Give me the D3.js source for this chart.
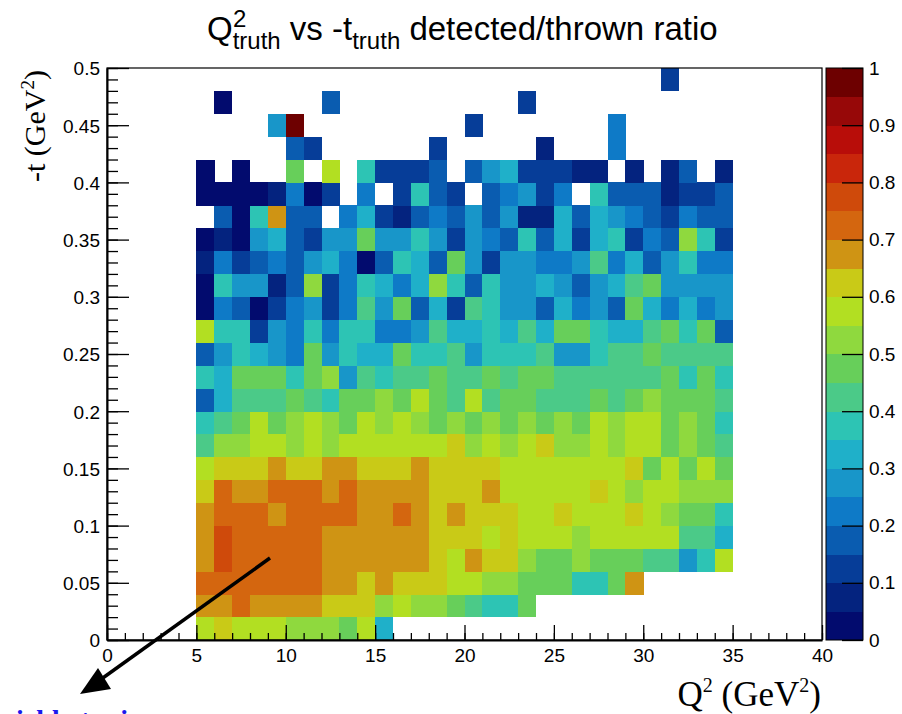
<!DOCTYPE html>
<html>
<head>
<meta charset="utf-8">
<script src="https://cdn.jsdelivr.net/npm/d3@7"></script>
<style>
  html, body { margin: 0; padding: 0; background: #ffffff; }
  svg { display: block; }
  .tick text { font-family: "Liberation Sans", Arial, sans-serif; }
</style>
</head>
<body>
<svg id="chart" width="902" height="714"></svg>
<script>
// ---------------- DATA ----------------
// Q^2 bin lower edges (GeV^2), bin width 1
const qBins = d3.range(5, 35, 1);
// -t bin lower edges (GeV^2), bin width 0.02
const tBins = d3.range(0, 25).map(i => +(i * 0.02).toFixed(2));
const qWidth = 1;
const tWidth = 0.02;

// detected/thrown ratio, one array per -t bin (Q^2 = 5 ... 34), null = empty bin
const ratio_t000 = [0.58,0.62,0.58,0.58,0.58,0.52,0.52,0.52,0.48,0.58, 0.33,null,null,null,null,null,null,null,null,null, null,null,null,null,null,null,null,null,null,null];
const ratio_t002 = [0.68,0.68,0.72,0.68,0.68,0.68,0.68,0.62,0.62,0.62, 0.52,0.58,0.52,0.52,0.48,0.42,0.38,0.38,0.48,null, null,null,null,null,null,null,null,null,null,null];
const ratio_t004 = [0.72,0.72,0.72,0.72,0.72,0.72,0.72,0.68,0.68,0.62, 0.68,0.62,0.62,0.62,0.58,0.58,0.52,0.52,0.48,0.48, 0.48,0.38,0.38,0.48,0.68,null,null,null,null,null];
const ratio_t006 = [0.68,0.78,0.72,0.72,0.72,0.72,0.72,0.68,0.68,0.68, 0.68,0.68,0.68,0.62,0.58,0.68,0.62,0.62,0.52,0.48, 0.48,0.52,0.48,0.48,0.48,0.42,0.42,0.28,0.38,0.58];
const ratio_t008 = [0.68,0.78,0.72,0.72,0.72,0.72,0.72,0.68,0.68,0.68, 0.68,0.68,0.68,0.62,0.62,0.62,0.58,0.62,0.58,0.58, 0.58,0.52,0.58,0.58,0.58,0.58,0.58,0.42,0.42,0.33];
const ratio_t010 = [0.68,0.72,0.72,0.72,0.68,0.72,0.72,0.72,0.72,0.68, 0.68,0.72,0.68,0.62,0.68,0.62,0.62,0.62,0.58,0.58, 0.62,0.58,0.58,0.58,0.62,0.58,0.52,0.48,0.48,0.38];
const ratio_t012 = [0.62,0.72,0.68,0.68,0.72,0.72,0.72,0.68,0.72,0.68, 0.68,0.68,0.68,0.62,0.62,0.62,0.68,0.58,0.58,0.58, 0.58,0.58,0.62,0.58,0.52,0.58,0.58,0.52,0.52,0.52];
const ratio_t014 = [0.58,0.62,0.62,0.62,0.68,0.62,0.62,0.68,0.68,0.62, 0.62,0.62,0.68,0.62,0.62,0.62,0.62,0.58,0.58,0.58, 0.58,0.58,0.58,0.58,0.62,0.48,0.58,0.48,0.58,0.48];
const ratio_t016 = [0.42,0.52,0.52,0.58,0.58,0.52,0.58,0.52,0.58,0.58, 0.58,0.58,0.58,0.58,0.62,0.52,0.58,0.52,0.58,0.62, 0.52,0.52,0.58,0.52,0.58,0.58,0.48,0.52,0.48,0.42];
const ratio_t018 = [0.38,0.42,0.48,0.58,0.48,0.52,0.58,0.52,0.48,0.58, 0.52,0.58,0.52,0.48,0.52,0.48,0.52,0.48,0.52,0.48, 0.52,0.48,0.58,0.52,0.58,0.58,0.48,0.52,0.48,0.38];
const ratio_t020 = [0.18,0.33,0.42,0.42,0.42,0.48,0.42,0.38,0.48,0.48, 0.52,0.48,0.58,0.48,0.42,0.58,0.42,0.48,0.48,0.42, 0.42,0.42,0.48,0.42,0.48,0.52,0.48,0.48,0.48,0.42];
const ratio_t022 = [0.38,0.33,0.48,0.48,0.48,0.38,0.48,0.52,0.28,0.42, 0.38,0.42,0.42,0.48,0.42,0.42,0.48,0.42,0.48,0.48, 0.42,0.42,0.42,0.42,0.42,0.42,0.48,0.38,0.48,0.38];
const ratio_t024 = [0.18,0.28,0.38,0.33,0.28,0.22,0.48,0.28,0.38,0.33, 0.33,0.48,0.38,0.38,0.42,0.28,0.38,0.38,0.38,0.42, 0.28,0.28,0.38,0.42,0.42,0.48,0.42,0.42,0.42,0.42];
const ratio_t026 = [0.58,0.38,0.38,0.13,0.28,0.22,0.38,0.22,0.38,0.38, 0.22,0.22,0.28,0.42,0.33,0.33,0.38,0.33,0.42,0.33, 0.48,0.48,0.38,0.33,0.33,0.42,0.48,0.38,0.48,0.18];
const ratio_t028 = [0.03,0.22,0.18,0.03,0.13,0.22,0.28,0.13,0.22,0.42, 0.28,0.48,0.18,0.33,0.13,0.42,0.38,0.28,0.28,0.18, 0.33,0.22,0.28,0.18,0.48,0.33,0.22,0.33,0.22,0.28];
const ratio_t030 = [0.03,0.38,0.28,0.28,0.08,0.18,0.52,0.13,0.22,0.38, 0.33,0.22,0.33,0.52,0.38,0.18,0.38,0.28,0.28,0.33, 0.28,0.18,0.28,0.33,0.42,0.48,0.28,0.28,0.28,0.28];
const ratio_t032 = [0.08,0.22,0.13,0.18,0.22,0.18,0.28,0.33,0.22,0.03, 0.18,0.38,0.33,0.18,0.48,0.28,0.13,0.28,0.28,0.22, 0.22,0.28,0.42,0.22,0.33,0.18,0.28,0.38,0.22,0.22];
const ratio_t034 = [0.03,0.08,0.03,0.28,0.33,0.18,0.13,0.28,0.28,0.48, 0.28,0.28,0.38,0.28,0.13,0.28,0.22,0.18,0.38,0.18, 0.33,0.13,0.33,0.38,0.13,0.22,0.18,0.52,0.38,0.13];
const ratio_t036 = [null,0.18,0.03,0.38,0.68,0.18,0.18,null,0.22,0.33, 0.13,0.08,0.18,0.22,0.18,0.28,0.18,0.28,0.08,0.08, 0.33,0.18,0.33,0.28,0.22,0.18,0.13,0.22,0.18,0.18];
const ratio_t038 = [0.03,0.03,0.03,0.03,0.08,0.22,0.03,0.13,null,0.22, null,0.13,0.38,0.18,0.13,null,0.18,0.22,0.28,0.13, 0.22,null,0.38,0.18,0.18,0.18,0.08,0.13,0.13,0.18];
const ratio_t040 = [0.03,null,0.03,null,null,0.48,null,0.58,null,0.38, 0.13,0.13,0.13,0.18,null,0.18,0.28,0.33,0.13,0.13, 0.13,0.08,0.08,null,0.08,null,0.08,0.18,null,0.08];
const ratio_t042 = [null,null,null,null,null,0.18,0.13,null,null,null, null,null,null,0.13,null,null,null,null,null,0.08, null,null,null,0.22,null,null,null,null,null,null];
const ratio_t044 = [null,null,null,null,0.28,0.97,null,null,null,null, null,null,null,null,null,0.13,null,null,null,null, null,null,null,0.22,null,null,null,null,null,null];
const ratio_t046 = [null,0.03,null,null,null,null,null,0.18,null,null, null,null,null,null,null,null,null,null,0.13,null, null,null,null,null,null,null,null,null,null,null];
const ratio_t048 = [null,null,null,null,null,null,null,null,null,null, null,null,null,null,null,null,null,null,null,null, null,null,null,null,null,null,0.13,null,null,null];

const ratioRows = [ratio_t000, ratio_t002, ratio_t004, ratio_t006, ratio_t008, ratio_t010, ratio_t012,
  ratio_t014, ratio_t016, ratio_t018, ratio_t020, ratio_t022, ratio_t024, ratio_t026, ratio_t028,
  ratio_t030, ratio_t032, ratio_t034, ratio_t036, ratio_t038, ratio_t040, ratio_t042, ratio_t044,
  ratio_t046, ratio_t048];

// axis ticks
const xMajorTicks = [0, 5, 10, 15, 20, 25, 30, 35, 40];
const yMajorTicks = [0, 0.05, 0.1, 0.15, 0.2, 0.25, 0.3, 0.35, 0.4, 0.45, 0.5];
const zTicks = [0, 0.1, 0.2, 0.3, 0.4, 0.5, 0.6, 0.7, 0.8, 0.9, 1];

// colour palette (20 discrete levels, 0..1)
const palette = ["#020b6e","#04237f","#063d98","#0a5cb0","#0e7ac7","#1896c9","#1fb0c9","#2dc4b4",
  "#4bca88","#67cf5a","#8fd93e","#b2df22","#c9ca17","#cf9414","#d4660f","#cf4a0b",
  "#c9260b","#b80d09","#970808","#6d0000"];

// ---------------- CHART ----------------
const svg = d3.select("#chart");
const plot = { left: 107, right: 822, top: 68, bottom: 640 };

const x = d3.scaleLinear().domain([0, 40]).range([plot.left, plot.right]);
const y = d3.scaleLinear().domain([0, 0.5]).range([plot.bottom, plot.top]);
const color = d3.scaleQuantize().domain([0, 1]).range(palette);

const cells = [];
ratioRows.forEach((row, ti) => {
  row.forEach((v, qi) => {
    if (v !== null) cells.push({ q: qBins[qi], t: tBins[ti], v });
  });
});

svg.append("g")
  .selectAll("rect")
  .data(cells)
  .join("rect")
  .attr("x", d => x(d.q))
  .attr("y", d => y(d.t + tWidth))
  .attr("width", d => x(d.q + qWidth) - x(d.q) + 0.3)
  .attr("height", d => y(d.t) - y(d.t + tWidth) + 0.3)
  .attr("fill", d => color(d.v))
  .attr("shape-rendering", "crispEdges");

// frame
svg.append("rect")
  .attr("x", plot.left).attr("y", plot.top)
  .attr("width", plot.right - plot.left).attr("height", plot.bottom - plot.top)
  .attr("fill", "none").attr("stroke", "#000").attr("stroke-width", 1.2);

// X axis
const xMinor = svg.append("g").attr("transform", `translate(0,${plot.bottom})`)
  .call(d3.axisBottom(x).tickValues(d3.range(0, 41, 1)).tickSize(-7).tickSizeOuter(0).tickFormat(""));
xMinor.select(".domain").remove();
const xAxis = svg.append("g").attr("transform", `translate(0,${plot.bottom})`)
  .call(d3.axisBottom(x).tickValues(xMajorTicks).tickSize(-15).tickSizeOuter(0).tickPadding(22).tickFormat(d3.format("d")));
xAxis.select(".domain").attr("stroke", "#000").attr("stroke-width", 2);
xAxis.selectAll("text").attr("font-size", 19).attr("fill", "#000").attr("dy", "0");

// Y axis
const yMinor = svg.append("g").attr("transform", `translate(${plot.left},0)`)
  .call(d3.axisLeft(y).tickValues(d3.range(0, 51, 1).map(i => i * 0.01)).tickSize(-11).tickSizeOuter(0).tickFormat(""));
yMinor.select(".domain").remove();
const yAxis = svg.append("g").attr("transform", `translate(${plot.left},0)`)
  .call(d3.axisLeft(y).tickValues(yMajorTicks).tickSize(-22).tickSizeOuter(0).tickPadding(7)
    .tickFormat(d => String(+d.toFixed(2))));
yAxis.select(".domain").attr("stroke", "#000").attr("stroke-width", 2);
yAxis.selectAll("text").attr("font-size", 19).attr("fill", "#000").attr("dy", "0.36em");
svg.selectAll(".tick line").attr("stroke", "#000").attr("stroke-width", 1.3);

// Colour bar
const zb = { left: 826, right: 863, top: 68, bottom: 640 };
const z = d3.scaleLinear().domain([0, 1]).range([zb.bottom, zb.top]);
const bands = palette.map((c, i) => ({ lo: i / palette.length, hi: (i + 1) / palette.length, c }));
svg.append("g").selectAll("rect").data(bands).join("rect")
  .attr("x", zb.left).attr("width", zb.right - zb.left)
  .attr("y", d => z(d.hi)).attr("height", d => z(d.lo) - z(d.hi) + 0.3)
  .attr("fill", d => d.c).attr("shape-rendering", "crispEdges");
svg.append("rect").attr("x", zb.left).attr("y", zb.top)
  .attr("width", zb.right - zb.left).attr("height", zb.bottom - zb.top)
  .attr("fill", "none").attr("stroke", "#000").attr("stroke-width", 1);
const zAxis = svg.append("g").attr("transform", `translate(${zb.right},0)`)
  .call(d3.axisRight(z).tickValues(zTicks).tickSize(-21).tickSizeOuter(0).tickPadding(6).tickFormat(d => String(+d.toFixed(1))));
zAxis.select(".domain").remove();
zAxis.selectAll("line").attr("stroke", "#000").attr("stroke-width", 1.3);
zAxis.selectAll("text").attr("font-size", 19).attr("fill", "#000");

// Title (main text plus stacked super/subscripts)
const tFont = "'Liberation Sans', Arial, sans-serif";
const title = svg.append("text")
  .attr("x", 207).attr("y", 40)
  .attr("font-family", tFont)
  .attr("font-size", 33).attr("fill", "#000");
title.append("tspan").text("Q");
title.append("tspan").attr("font-size", 24).attr("dy", 9).text("truth");
title.append("tspan").attr("dy", -9).text(" vs -t");
title.append("tspan").attr("font-size", 24).attr("dy", 9).text("truth");
title.append("tspan").attr("dy", -9).text(" detected/thrown ratio");
svg.append("text")
  .attr("x", 233).attr("y", 27)
  .attr("font-family", tFont)
  .attr("font-size", 24).attr("fill", "#000")
  .text("2");

// Y axis title
const yt = svg.append("text")
  .attr("transform", "translate(45,182) rotate(-90)")
  .attr("font-family", "'Liberation Serif', 'Times New Roman', serif")
  .attr("font-size", 30).attr("fill", "#000");
yt.append("tspan").text("-t (GeV");
yt.append("tspan").attr("font-size", 19).attr("dy", -11).text("2");
yt.append("tspan").attr("dy", 11).text(")");

// X axis title
const xt = svg.append("text")
  .attr("x", 821).attr("y", 706)
  .attr("text-anchor", "end")
  .attr("font-family", "'Liberation Serif', 'Times New Roman', serif")
  .attr("font-size", 35).attr("fill", "#000");
xt.append("tspan").text("Q");
xt.append("tspan").attr("font-size", 20).attr("dy", -14).text("2");
xt.append("tspan").attr("dy", 14).text(" (GeV");
xt.append("tspan").attr("font-size", 20).attr("dy", -14).text("2");
xt.append("tspan").attr("dy", 14).text(")");

// Annotation arrow
svg.append("line")
  .attr("x1", 270).attr("y1", 558).attr("x2", 100).attr("y2", 680)
  .attr("stroke", "#000").attr("stroke-width", 3.5);
const tip = [80, 694], base1 = [98, 668], base2 = [111, 689];
svg.append("path")
  .attr("d", `M${tip[0]},${tip[1]} L${base1[0]},${base1[1]} L${base2[0]},${base2[1]} Z`)
  .attr("fill", "#000");

// Annotation text (cut by bottom edge)
svg.append("text")
  .attr("x", 2).attr("y", 729)
  .attr("font-family", "'Liberation Serif', 'Times New Roman', serif")
  .attr("font-weight", "bold")
  .attr("font-size", 28).attr("fill", "#1a1aee")
  .text("yield at min");
</script>
</body>
</html>
